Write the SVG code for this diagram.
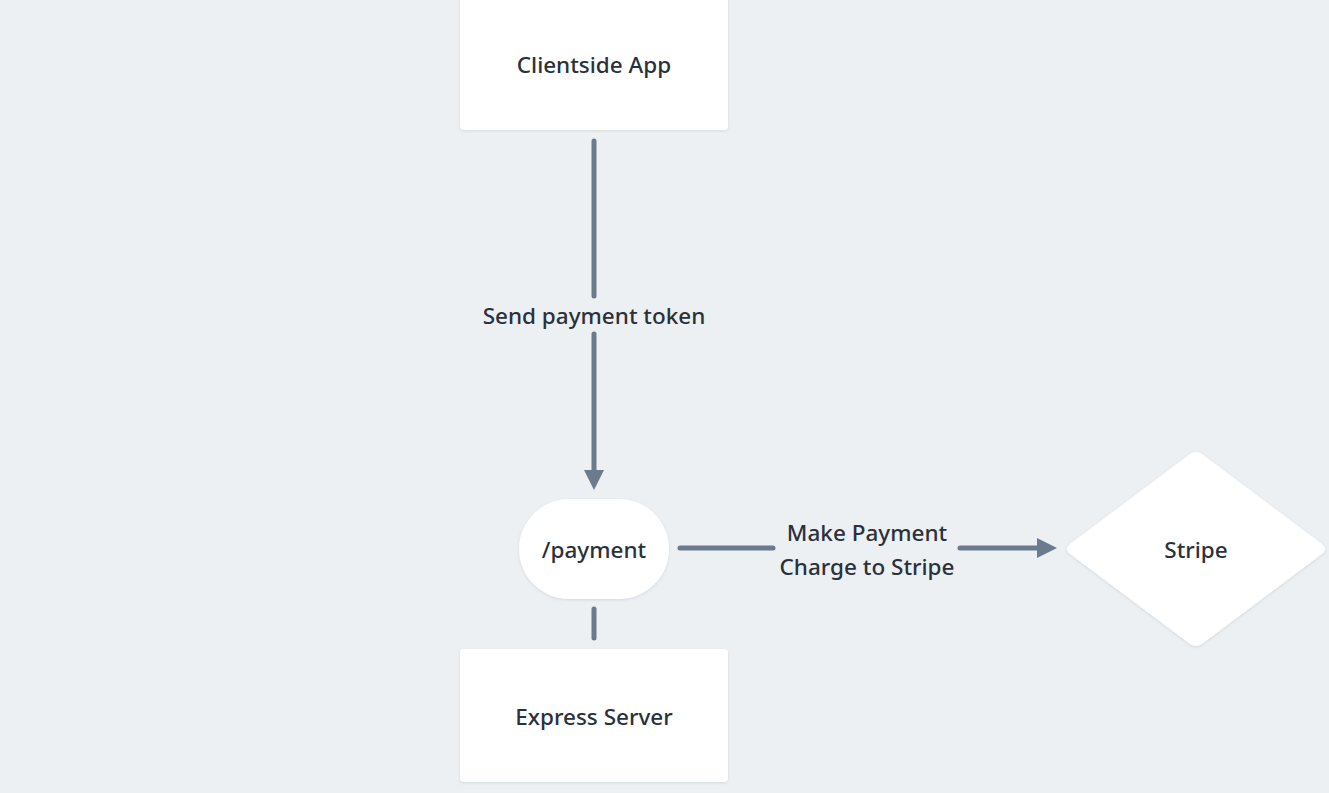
<svg xmlns="http://www.w3.org/2000/svg" width="1329" height="793" viewBox="0 0 1329 793">
<defs>
<style>
.bg{fill:#ECF0F3}
.node{fill:#FFFFFF;filter:url(#sh)}
.lbl{font-family:"Noto Sans","Liberation Sans",sans-serif;font-size:22.5px;font-weight:500;fill:#2A313B;text-anchor:middle;dominant-baseline:central}
.edge{stroke:#6B7A8C;stroke-width:5;stroke-linecap:round;fill:none}
.elbl{font-family:"Noto Sans","Liberation Sans",sans-serif;font-size:22.5px;font-weight:500;fill:#2A313B;text-anchor:middle;dominant-baseline:central}
</style>
<filter id="sh" x="-10%" y="-10%" width="120%" height="130%">
<feDropShadow dx="0" dy="1" stdDeviation="1.5" flood-color="#8A96A3" flood-opacity="0.25"/>
</filter>
<marker id="arr" viewBox="0 0 10 10" refX="4" refY="5" markerWidth="4" markerHeight="4" orient="auto" markerUnits="strokeWidth">
<path d="M0,0 L10,5 L0,10 z" fill="#6B7A8C"/>
</marker>
</defs>
<rect class="bg" x="0" y="0" width="1329" height="793"/>
<g id="connectors">
<line class="edge" x1="594" y1="141" x2="594" y2="296"/>
<line class="edge" x1="594" y1="334" x2="594" y2="478" marker-end="url(#arr)"/>
<line class="edge" x1="594" y1="609" x2="594" y2="638"/>
<line class="edge" x1="680" y1="548" x2="773" y2="548"/>
<line class="edge" x1="960" y1="548" x2="1045" y2="548" marker-end="url(#arr)"/>
<text class="elbl" x="594" y="315">Send payment token</text>
<text class="elbl" x="867" y="532">Make Payment</text>
<text class="elbl" x="867" y="566">Charge to Stripe</text>
</g>
<g id="clientside-app">
<rect class="node" x="460" y="-6" width="268" height="136" rx="4"/>
<text class="lbl" x="594" y="64">Clientside App</text>
</g>
<g id="payment">
<rect class="node" x="519" y="499" width="150" height="100" rx="50"/>
<text class="lbl" x="594" y="549">/payment</text>
</g>
<g id="express-server">
<rect class="node" x="460" y="649" width="268" height="133" rx="4"/>
<text class="lbl" x="594" y="716">Express Server</text>
</g>
<g id="stripe">
<path class="node" d="M1190,454 Q1196,450 1202,454 L1322,544 Q1328,549 1322,554 L1202,644 Q1196,648 1190,644 L1070,554 Q1064,549 1070,544 Z"/>
<text class="lbl" x="1196" y="549">Stripe</text>
</g>
</svg>
